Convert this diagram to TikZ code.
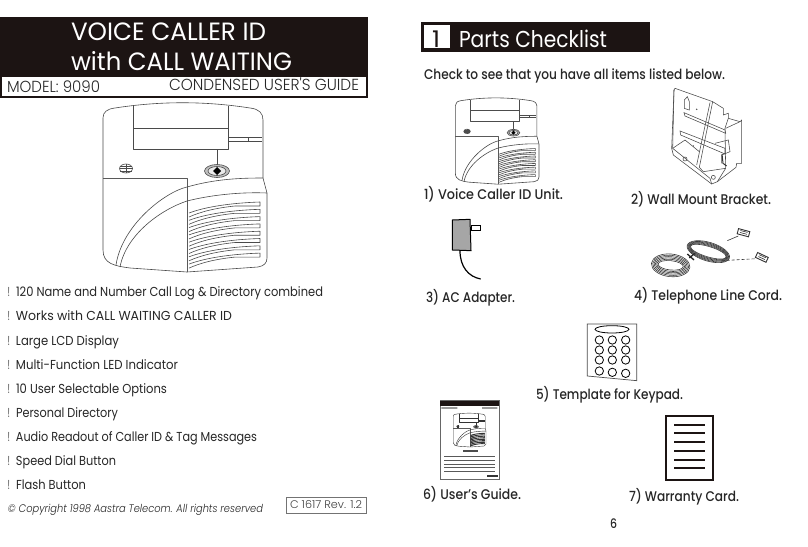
\documentclass[tikz,border=0pt]{standalone}
\usepackage{fontspec}
\usepackage{graphicx}
\setmainfont{Poppins Medium}
\newfontfamily\lightf{Poppins Light}
\newfontfamily\regf{Poppins}
\definecolor{ink}{HTML}{1C1413}
\definecolor{txt}{HTML}{262626}
\definecolor{linegray}{HTML}{4A4A4A}
\tikzset{
  lab/.style={inner sep=0pt,outer sep=0pt,anchor=base west,text=txt},
  thinline/.style={draw=black!72,line width=0.55pt},
  cordline/.style={draw=black!78,line width=0.6pt}
}
% name, left, right, centre y, size, font switch, text
\newcommand{\lab}[7]{\node[lab] (#1) at ({#2},{#4+0.35*#5}) {\resizebox{\dimexpr #3pt-#2pt\relax}{\height}{\fontsize{#5pt}{#5pt}\selectfont #6\relax #7}};}
\newcommand{\unitdraw}[2]{%
  \begin{scope}[line width=#1, draw=#2, line join=round]
  % outline
  \draw (103,178) -- (103,118) .. controls (103,112) and (107,109) .. (115,108) .. controls (160,101) and (205,101) .. (250,108) .. controls (259,109) and (263,113) .. (263,120) -- (263,178) -- (267,193) -- (267,258) .. controls (267,263) and (264,266) .. (258,267) -- (187,272) -- (130,268) .. controls (115,266) and (103,264) .. (103,250) -- cycle;
  % display
  \draw (133,106) -- (133,149) -- (228,149) -- (228,106);
  \draw (133,128) -- (228,128);
  \draw (228,137) -- (262,137) (228,141) -- (262,141) (248,137) -- (248,141);
  % indicator
  \draw (217,149) -- (217,165);
  \draw[fill=black!25] (217,171) ellipse (12.5 and 6.5);
  \draw[fill=black!8] (217,171) ellipse (9 and 4.5);
  \fill[black] (217,167) -- (221,171) -- (217,175) -- (213,171) -- cycle;
  % small speaker
  \draw (126,168.5) ellipse (6.5 and 4.5);
  \draw (120,166) -- (132,166) (119.5,168.5) -- (132.5,168.5) (120,171) -- (132,171) (126,164) -- (126,173);
  % panel
  \draw[line width=1.5*#1, draw=black!65] (103,178) -- (187,178) -- (187,272);
  % curves
  \draw (116,265) .. controls (122,225) and (165,192) .. (187,187) .. controls (215,179) and (240,178) .. (263,178);
  \draw (120,267) .. controls (126,235) and (160,210) .. (187,201) .. controls (215,194) and (245,192) .. (267,193);
  % vents
  \foreach \v in {0,...,7}{
    \draw (189,{213+7.3*\v}) .. controls (205,{207+7.3*\v}) and (230,{203+7.3*\v}) .. (260,{202+7.3*\v}) -- (260,{206+7.3*\v}) -- (235,{206+7.3*\v}) .. controls (215,{208+7.3*\v}) and (200,{212+7.3*\v}) .. (189,{217+7.3*\v});
  }
  \end{scope}}
\begin{document}
\begin{tikzpicture}[x=1pt,y=-1pt]
\useasboundingbox (0,0) rectangle (808,546);
\fill[white] (0,0) rectangle (808,546);

% left header
\fill[ink] (0,17) rectangle (368,98);
\fill[white] (2,77) rectangle (366,96);
\lab{title1}{71}{266}{32}{25}{\regf\color{white}}{VOICE CALLER ID}
\lab{title2}{71}{292}{62}{25}{\regf\color{white}}{with CALL WAITING}
\lab{model}{7}{100}{87}{16}{\lightf}{MODEL: 9090}
\lab{guide}{169}{359}{85}{16}{\lightf}{CONDENSED USER'S GUIDE}

% big unit
\unitdraw{0.6pt}{linegray}

% feature list
\lab{b1}{8}{10}{292}{13}{\regf}{!}
\lab{b2}{8}{10}{316}{13}{\regf}{!}
\lab{b3}{8}{10}{341}{13}{\regf}{!}
\lab{b4}{8}{10}{365}{13}{\regf}{!}
\lab{b5}{8}{10}{389}{13}{\regf}{!}
\lab{b6}{8}{10}{413}{13}{\regf}{!}
\lab{b7}{8}{10}{437}{13}{\regf}{!}
\lab{b8}{8}{10}{461}{13}{\regf}{!}
\lab{b9}{8}{10}{485}{13}{\regf}{!}
\lab{f1}{16}{323}{292}{13}{\regf}{120 Name and Number Call Log \& Directory combined}
\lab{f2}{16}{232}{316}{13}{\regf}{Works with CALL WAITING CALLER ID}
\lab{f3}{16}{119}{341}{13}{\regf}{Large LCD Display}
\lab{f4}{16}{178}{365}{13}{\regf}{Multi-Function LED Indicator}
\lab{f5}{16}{167}{389}{13}{\regf}{10 User Selectable Options}
\lab{f6}{16}{118}{413}{13}{\regf}{Personal Directory}
\lab{f7}{16}{257}{437}{13}{\regf}{Audio Readout of Caller ID \& Tag Messages}
\lab{f8}{16}{116}{461}{13}{\regf}{Speed Dial Button}
\lab{f9}{16}{86}{485}{13}{\regf}{Flash Button}
\lab{copy}{8}{263}{509}{11}{\lightf\itshape}{© Copyright 1998 Aastra Telecom. All rights reserved}
\draw[black!55,line width=0.5pt] (286,497) rectangle (366,513);
\lab{rev}{290}{362}{505}{11}{\lightf\color{black!75}}{C 1617 Rev. 1.2}

% right header
\fill[ink] (421,22) rectangle (650,52);
\fill[white] (424,25) rectangle (450,48);
\lab{num}{432}{440}{39}{23}{\regf\color{ink}}{1}
\lab{parts}{459}{607}{39}{23}{\regf\color{white}}{Parts Checklist}
\lab{check}{424}{725}{75}{14}{}{Check to see that you have all items listed below.}

% small unit
\begin{scope}[shift={(402.8,45.5)},scale=0.51]
\unitdraw{0.6pt}{black!70}
\end{scope}

% bracket
\begin{scope}[shift={(660,80)},scale=1/3]
\draw[thinline] (42,30) -- (45,25) -- (158,65) -- (190,85) -- (190,105) -- (205,100) -- (205,115) -- (240,125) -- (245,120) -- (245,250) -- (230,250) -- (228,262) -- (172,305) -- (155,312) -- (40,225) -- (35,205) -- cycle;
\draw[thinline] (42,30) -- (38,205) -- (150,295) -- (155,312);
\draw[thinline] (158,65) -- (118,262) -- (130,275);
\draw[thinline] (150,68) -- (110,255);
\draw[thinline] (205,115) -- (195,145) -- (197,265) -- (172,305);
\draw[thinline] (240,125) -- (197,145);
\draw[thinline] (72,98) -- (195,150) -- (197,160) -- (75,108) -- cycle;
\draw[thinline] (60,153) -- (195,205) -- (195,222) -- (62,165) -- cycle;
\draw[thinline] (73,60) -- (73,85) -- (88,90) -- (88,65) -- (82,50) -- cycle;
\draw[thinline] (165,190) -- (205,180) -- (210,215) -- (185,225) -- (185,250);
\draw[line width=1pt,black!80] (186,222) -- (189,250) -- (200,258);
\draw[thinline] (38,205) -- (75,180) -- (118,215);
\draw[thinline] (197,265) -- (130,275);
\draw[thinline] (75,237) circle (6) (160,292) circle (6);
\fill[black!70] (110,88) circle (2.5) (100,198) circle (2.5);
\end{scope}

% adapter
\begin{scope}[shift={(410,80)},scale=1/3]
\draw[line width=1pt,black,fill=black!35] (127,420) -- (180,418) -- (183,512) -- (127,510) -- cycle;
\draw[line width=0.8pt,black,fill=white] (183,437) -- (210,437) -- (210,450) -- (183,450) -- cycle;
\draw[line width=1.2pt,black] (150,512) .. controls (150,560) and (175,590) .. (212,597);
\end{scope}

% cord
\begin{scope}[shift={(640,220)},scale=1/3]
\foreach \r in {0,4,...,20}{
  \draw[cordline,rotate around={-6:(92,136)}] (92,136) ellipse ({58-\r} and {34-\r});
  \draw[cordline,rotate around={-17:(205,95)}] (205,95) ellipse ({66-\r/2} and {28-\r/1.6});
}
\draw[line width=1.3pt,black!85] (142,102) -- (162,120) (148,114) -- (164,100);
\draw[cordline] (262,62) -- (295,48);
\draw[cordline,densely dashed] (245,122) -- (350,116);
\draw[line width=0.9pt,black!80,fill=white,rotate around={-15:(310,38)}] (293,30) rectangle (328,46);
\draw[line width=0.6pt,black!80,rotate around={-15:(310,38)}] (300,34) -- (322,34) (300,40) -- (322,40);
\draw[line width=0.9pt,black!80,fill=white,rotate around={-25:(365,112)}] (348,104) rectangle (383,120);
\draw[line width=0.6pt,black!80,rotate around={-25:(365,112)}] (355,108) -- (377,108) (355,114) -- (377,114);
\end{scope}

% keypad
\begin{scope}[shift={(410,310)},scale=1/3]
\draw[line width=0.7pt,black!70] (532,42) -- (680,42) -- (680,212) -- (532,198) -- cycle;
\draw[line width=0.8pt,black] (606,58) ellipse (51 and 11);
\foreach \x/\y in {568/90,607/90,647/90,568/120,607/120,647/120,568/150,607/150,647/150,568/183,607/187,647/190}{
  \draw[line width=0.8pt,black] (\x,\y) circle (12.5);
}
\end{scope}

% guide
\begin{scope}[shift={(410,310)},scale=1/3]
\draw[line width=0.6pt,black!60] (90,272) rectangle (268,508);
\fill[ink] (90,272) rectangle (268,288);
\fill[black!60] (94,292) rectangle (142,296) (216,292) rectangle (262,296);
\fill[black!70] (160,420) rectangle (203,427);
\foreach \y in {440,451,462,473,484}{
  \draw[line width=0.5pt,black!65] (102,\y) -- (256,\y);
}
\fill[black!80] (232,496) rectangle (265,502);
\end{scope}
\begin{scope}[shift={(432.6,392.6)},scale=0.2]
\unitdraw{0.4pt}{black!80}
\end{scope}

% warranty card
\begin{scope}[shift={(410,310)},scale=1/3]
\draw[line width=2pt,ink] (768,317) rectangle (908,510);
\foreach \y in {344,370,396,422,449,475}{
  \draw[line width=1.8pt,ink] (792,\y) -- (884,\y);
}
\end{scope}

% item labels
\lab{i1}{424}{563}{195}{14}{}{1) Voice Caller ID Unit.}
\lab{i2}{631}{771}{200}{14}{}{2) Wall Mount Bracket.}
\lab{i3}{426}{515}{298}{14}{}{3) AC Adapter.}
\lab{i4}{634}{782}{296}{14}{}{4) Telephone Line Cord.}
\lab{i5}{536}{683}{395}{14}{}{5) Template for Keypad.}
\lab{i6}{423}{521}{495}{14}{}{6) User's Guide.}
\lab{i7}{629}{739}{497}{14}{}{7) Warranty Card.}
\lab{pg}{610}{617}{524}{13}{}{6}
\end{tikzpicture}
\end{document}
